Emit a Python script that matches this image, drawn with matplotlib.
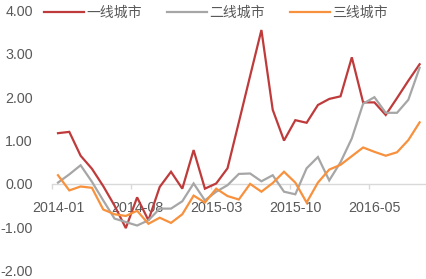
import matplotlib
matplotlib.use("Agg")
import matplotlib.pyplot as plt
from matplotlib.ticker import FixedLocator, FormatStrFormatter

plt.rcParams['font.family'] = ['Liberation Sans', 'Noto Sans CJK SC', 'DejaVu Sans']

months = ['2014-01', '2014-02', '2014-03', '2014-04', '2014-05', '2014-06', '2014-07',
          '2014-08', '2014-09', '2014-10', '2014-11', '2014-12', '2015-01', '2015-02',
          '2015-03', '2015-04', '2015-05', '2015-06', '2015-07', '2015-08', '2015-09',
          '2015-10', '2015-11', '2015-12', '2016-01', '2016-02', '2016-03', '2016-04',
          '2016-05', '2016-06', '2016-07', '2016-08', '2016-09']
tick_labels = ['2014-01', '2014-08', '2015-03', '2015-10', '2016-05']

series_names = ['一线城市', '二线城市', '三线城市']
tier1 = [1.17, 1.20, 0.65, 0.35, -0.05, -0.50, -1.02, -0.31, -0.84, -0.07, 0.28,
         -0.11, 0.78, -0.11, 0.01, 0.36, 1.42, 2.49, 3.55, 1.71, 1.00, 1.47, 1.41,
         1.82, 1.96, 2.02, 2.92, 1.88, 1.88, 1.59, 1.98, 2.38, 2.76]
tier2 = [0.03, 0.22, 0.43, 0.05, -0.38, -0.80, -0.88, -0.96, -0.84, -0.57, -0.57,
         -0.40, 0.01, -0.38, -0.18, -0.03, 0.23, 0.24, 0.06, 0.20, -0.18, -0.24, 0.36,
         0.62, 0.08, 0.50, 1.05, 1.85, 2.00, 1.64, 1.64, 1.94, 2.68]
tier3 = [0.20, -0.15, -0.06, -0.09, -0.59, -0.70, -0.74, -0.62, -0.92, -0.78, -0.90,
         -0.70, -0.27, -0.43, -0.11, -0.28, -0.36, 0.00, -0.18, 0.02, 0.28, 0.03, -0.43,
         0.03, 0.33, 0.44, 0.64, 0.84, 0.74, 0.65, 0.73, 1.01, 1.42]

colors = ['#BF3B3B', '#A6A6A6', '#F7913D']
text_color = '#595959'

fig = plt.figure(figsize=(4.26, 2.79), dpi=100)
ax = fig.add_axes([0.1229, 0.0301, 0.8754, 0.9323])

x = list(range(len(months)))
for vals, name, c in zip([tier1, tier2, tier3], series_names, colors):
    ax.plot(x, vals, color=c, lw=1.6, label=name, solid_joinstyle='miter')

ax.set_xlim(-0.5, len(months) - 0.5)
ax.set_ylim(-2, 4)

for s in ['top', 'right', 'left']:
    ax.spines[s].set_visible(False)
ax.spines['bottom'].set_position(('data', 0))
ax.spines['bottom'].set_color('#D9D9D9')
ax.spines['bottom'].set_linewidth(1.0)
ax.spines['bottom'].set_zorder(0)

tick_pos = [months.index(t) for t in tick_labels]
ax.xaxis.set_major_locator(FixedLocator(tick_pos))
ax.set_xticklabels(tick_labels)
ax.xaxis.set_minor_locator(FixedLocator([p - 0.5 for p in tick_pos]))
ax.tick_params(axis='x', which='major', length=0, pad=12, labelsize=10.3, labelcolor=text_color)
ax.tick_params(axis='x', which='minor', length=3.8, width=1.0, color='#D9D9D9', direction='out')

ax.yaxis.set_major_locator(FixedLocator([-2, -1, 0, 1, 2, 3, 4]))
ax.yaxis.set_major_formatter(FormatStrFormatter('%.2f'))
ax.tick_params(axis='y', length=0, pad=14, labelsize=10.3, labelcolor=text_color)

leg = ax.legend(loc='center', bbox_to_anchor=(0.507, 0.953), bbox_transform=fig.transFigure,
                ncol=3, frameon=False, borderpad=0, handlelength=2.9, handletextpad=0.15,
                columnspacing=1.8, prop={'family': ['Noto Sans CJK SC'], 'size': 10})
for t in leg.get_texts():
    t.set_color(text_color)

fig.savefig('out.png', dpi=100)
